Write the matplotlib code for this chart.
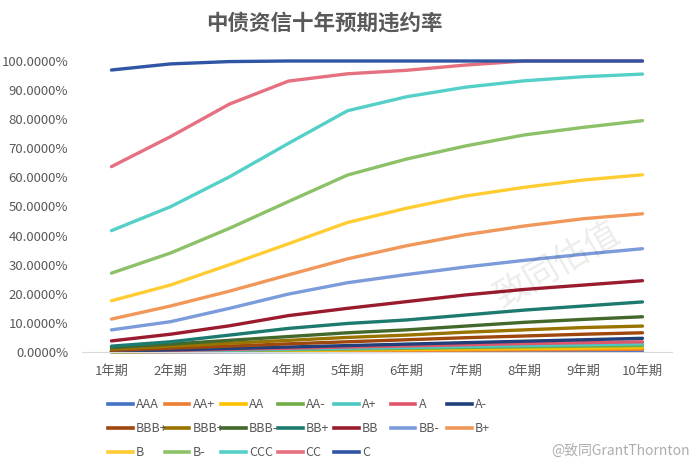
import matplotlib
matplotlib.use("Agg")
import matplotlib.pyplot as plt
from matplotlib.lines import Line2D
from matplotlib.ticker import FuncFormatter

plt.rcParams['font.family'] = ['Noto Sans CJK SC', 'DejaVu Sans']

# 期限
terms = ['1年期', '2年期', '3年期', '4年期', '5年期', '6年期', '7年期', '8年期', '9年期', '10年期']

# 各等级累计违约率（%）
ratings = ['AAA', 'AA+', 'AA', 'AA-', 'A+', 'A', 'A-',
           'BBB+', 'BBB+', 'BBB-', 'BB+', 'BB', 'BB-', 'B+',
           'B', 'B-', 'CCC', 'CC', 'C']

aaa = [0.02, 0.05, 0.08, 0.12, 0.16, 0.2, 0.25, 0.3, 0.35, 0.4]
aa_plus = [0.05, 0.12, 0.2, 0.3, 0.4, 0.5, 0.6, 0.7, 0.8, 0.9]
aa = [0.08, 0.2, 0.35, 0.5, 0.7, 0.85, 1.0, 1.15, 1.3, 1.5]
aa_minus = [0.1, 0.3, 0.5, 0.75, 1.0, 1.25, 1.5, 1.75, 2.0, 2.2]
a_plus = [0.12, 0.35, 0.65, 1.0, 1.3, 1.6, 1.9, 2.2, 2.5, 2.8]
a = [0.2, 0.5, 0.9, 1.3, 1.7, 2.1, 2.5, 2.9, 3.2, 3.5]
a_minus = [0.3, 0.7, 1.2, 1.7, 2.2, 2.7, 3.2, 3.7, 4.2, 4.7]
bbb_plus = [0.6, 1.3, 2.0, 2.8, 3.5, 4.2, 4.9, 5.5, 6.1, 6.6]
bbb = [1.0, 2.0, 3.0, 4.0, 5.0, 5.8, 6.8, 7.6, 8.4, 8.9]
bbb_minus = [1.5, 2.7, 4.0, 5.3, 6.6, 7.6, 8.9, 10.2, 11.2, 12.1]
bb_plus = [2.0, 3.5, 5.8, 8.1, 9.8, 11.0, 12.7, 14.4, 15.8, 17.2]
bb = [3.8, 6.1, 9.0, 12.5, 15.0, 17.3, 19.6, 21.5, 23.0, 24.5]
bb_minus = [7.6, 10.4, 15.0, 19.9, 23.8, 26.6, 29.2, 31.5, 33.6, 35.5]
b_plus = [11.3, 15.8, 20.9, 26.5, 32.0, 36.5, 40.3, 43.3, 45.8, 47.5]
b = [17.6, 23.0, 30.0, 37.2, 44.5, 49.4, 53.6, 56.6, 59.1, 60.9]
b_minus = [27.1, 34.0, 42.5, 51.7, 60.8, 66.3, 70.8, 74.6, 77.2, 79.5]
ccc = [41.7, 49.9, 60.2, 71.7, 82.9, 87.7, 91.0, 93.2, 94.6, 95.5]
cc = [63.7, 74.0, 85.2, 93.1, 95.6, 96.8, 98.6, 100.0, 100.0, 100.0]
c = [96.9, 99.0, 99.8, 100.0, 100.0, 100.0, 100.0, 100.0, 100.0, 100.0]

series = [aaa, aa_plus, aa, aa_minus, a_plus, a, a_minus,
          bbb_plus, bbb, bbb_minus, bb_plus, bb, bb_minus, b_plus,
          b, b_minus, ccc, cc, c]

colors = ['#4472C4', '#ED7D31', '#FFC000', '#70AD47', '#4BC8C4', '#E0566A', '#213F7A',
          '#9E480E', '#997300', '#43682B', '#1D7A6E', '#9B1B2E', '#7B9BDB', '#F1975A',
          '#FFCD33', '#8CC168', '#55D0C8', '#E5707F', '#2F55A4']

fig = plt.figure(figsize=(7, 4.71), dpi=100)
ax = fig.add_axes([0.1171, 0.2527, 0.8429, 0.6178])

x = list(range(1, len(terms) + 1))
for vals, col in zip(series, colors):
    ax.plot(x, vals, color=col, linewidth=2.4, solid_capstyle='round', clip_on=False)

ax.set_xlim(0.5, 10.5)
ax.set_ylim(0, 100)
ax.set_yticks(range(0, 101, 10))
ax.yaxis.set_major_formatter(FuncFormatter(lambda v, p: f'{v:.4f}%'))
ax.set_xticks(x)
ax.set_xticklabels(terms)

for s in ['top', 'right', 'left']:
    ax.spines[s].set_visible(False)
ax.spines['bottom'].set_color('#D9D9D9')
ax.tick_params(axis='both', length=0, colors='#595959', labelsize=9.5)
ax.tick_params(axis='x', pad=9)
ax.tick_params(axis='y', pad=10)

fig.text(0.464, 0.951, '中债资信十年预期违约率', ha='center', va='center',
         fontsize=15.5, fontweight='bold', color='#595959')

# 图例（手动排布 3 行 7 列）
legend_font = ['Liberation Sans Narrow', 'Noto Sans CJK SC', 'DejaVu Sans']
row_y = [404, 428, 452]
col_x = [108, 164.5, 221, 277.5, 334, 390.5, 447]
for i, (name, col) in enumerate(zip(ratings, colors)):
    r, k = divmod(i, 7)
    x0 = col_x[k] / 700
    y0 = 1 - row_y[r] / 471
    fig.add_artist(Line2D([x0, x0 + 25 / 700], [y0, y0], color=col, linewidth=2.6,
                          transform=fig.transFigure))
    fig.text(x0 + 28 / 700, y0, name, ha='left', va='center', fontsize=9,
             color='#595959', family=legend_font)

# 水印
fig.text(0.797, 0.437, '致同估值', ha='center', va='center', fontsize=25, rotation=30,
         color='#000000', alpha=0.08)
fig.text(0.985, 0.04, '@致同GrantThornton', ha='right', va='center', fontsize=10,
         color='#777777', alpha=0.6)

fig.savefig('out.png', dpi=100)
